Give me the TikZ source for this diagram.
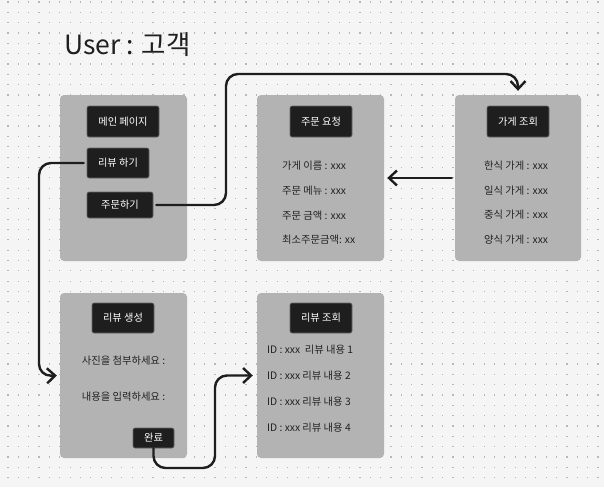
\documentclass[tikz,border=0pt]{standalone}
\usepackage{fontspec}
\setmainfont{Noto Sans CJK KR}
\usetikzlibrary{arrows.meta}
\definecolor{bgc}{HTML}{F5F5F5}
\definecolor{dotc}{HTML}{B8B8B8}
\definecolor{panelc}{HTML}{B3B3B3}
\definecolor{btnc}{HTML}{1E1E1E}
\definecolor{txtc}{HTML}{222222}
\definecolor{linec}{HTML}{1E1E1E}
\begin{document}
\begin{tikzpicture}[x=1pt,y=-1pt,
  panel/.style={fill=panelc, rounded corners=4pt, inner sep=0pt, draw=none},
  btn/.style={fill=btnc, draw=black!60, line width=0.6pt, rounded corners=2pt, text=white, font=\fontsize{10.2}{12}\selectfont, inner sep=0pt},
  body/.style={text=txtc, font=\fontsize{10.3}{12}\selectfont, inner sep=0pt},
  conn/.style={draw=linec, line width=2.4pt, line cap=round, line join=round, rounded corners=12pt, -{Straight Barb[length=8pt,width=15pt]}}]
\useasboundingbox (0,0) rectangle (604,487);
\fill[bgc] (0,0) rectangle (604,487);
% dot grid
\foreach \i in {0,...,57}{
  \foreach \j in {0,...,46}{
    \fill[dotc] ({8+10.35*\i-0.6},{2+10.34*\j-0.6}) rectangle ++(1.2,1.2);
  }
}
% title
\node[anchor=west, inner sep=0pt, text=black!88, font=\fontsize{26.5}{31}\selectfont] (title) at (64,45) {User : 고객};
% panels
\node[panel, minimum width=127pt, minimum height=166pt] (main) at (123.5,178) {};
\node[panel, minimum width=127pt, minimum height=166pt] (order) at (320.5,178) {};
\node[panel, minimum width=126pt, minimum height=166pt] (store) at (518,178) {};
\node[panel, minimum width=127pt, minimum height=165pt] (rcreate) at (123.5,375.5) {};
\node[panel, minimum width=127pt, minimum height=165pt] (rlookup) at (320.5,375.5) {};
% buttons
\node[btn, minimum width=72pt, minimum height=31pt] (bmain) at (123,121.5) {메인 페이지};
\node[btn, minimum width=62pt, minimum height=30pt] (breview) at (118,163) {리뷰 하기};
\node[btn, minimum width=66pt, minimum height=26pt] (border) at (120,205) {주문하기};
\node[btn, minimum width=62pt, minimum height=31pt] (borderreq) at (321,121.5) {주문 요청};
\node[btn, minimum width=62pt, minimum height=31pt] (bstore) at (518,121.5) {가게 조회};
\node[btn, minimum width=62pt, minimum height=30pt] (brcreate) at (123,318) {리뷰 생성};
\node[btn, minimum width=41pt, minimum height=20pt] (bdone) at (153.5,438) {완료};
\node[btn, minimum width=62pt, minimum height=30pt] (brlookup) at (321,318) {리뷰 조회};
% order texts
\node[body, anchor=west] (o1) at (282,166) {가게 이름 : xxx};
\node[body, anchor=west] (o2) at (282,191) {주문 메뉴 : xxx};
\node[body, anchor=west] (o3) at (282,216) {주문 금액 : xxx};
\node[body, anchor=west] (o4) at (282,240) {최소주문금액: xx};
% store texts
\node[body, anchor=west] (s1) at (484,166) {한식 가게 : xxx};
\node[body, anchor=west] (s2) at (484,191) {일식 가게 : xxx};
\node[body, anchor=west] (s3) at (484,215) {중식 가게 : xxx};
\node[body, anchor=west] (s4) at (484,240) {양식 가게 : xxx};
% review create texts
\node[body] (c1) at (123.5,361) {사진을 첨부하세요 :};
\node[body] (c2) at (123.5,397) {내용을 입력하세요 :};
% review lookup texts
\node[body, anchor=west] (l1) at (267,350) {ID : xxx\ \ 리뷰 내용 1};
\node[body, anchor=west] (l2) at (267,376) {ID : xxx 리뷰 내용 2};
\node[body, anchor=west] (l3) at (267,402) {ID : xxx 리뷰 내용 3};
\node[body, anchor=west] (l4) at (267,428) {ID : xxx 리뷰 내용 4};
% connectors
\coordinate (top) at (226,74);
\coordinate (left) at (39,376);
\coordinate (low) at (215,468);
\draw[conn] ([xshift=3pt]border.east) -| (top) -| ([yshift=4pt]store.north);
\draw[conn] ([xshift=-3pt]breview.west) -| (left) -- ([xshift=-3pt]rcreate.west);
\draw[conn] (bdone.south) |- (low) |- ([xshift=-4pt]rlookup.west);
\draw[conn] ([xshift=-3pt]store.west) -- ([xshift=3pt]order.east);
\end{tikzpicture}
\end{document}
